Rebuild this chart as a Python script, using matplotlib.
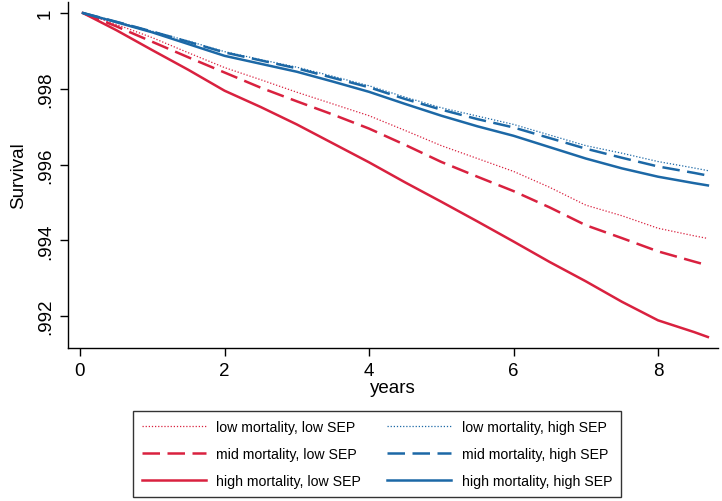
import matplotlib
matplotlib.use("Agg")
import matplotlib.pyplot as plt
from matplotlib.ticker import FuncFormatter

plt.rcParams['font.family'] = ['Liberation Sans', 'DejaVu Sans']

# years since baseline
years = [0.04, 0.5, 1, 1.5, 2, 2.5, 3, 3.5, 4, 4.5, 5, 5.5, 6, 6.5, 7, 7.5, 8, 8.5, 8.69]

# survival, low SEP
low_mort_low_sep = [1.0, .99970, .99935, .99895, .99856, .99824, .99791, .99760, .99729, .99690,
                    .99650, .99616, .99582, .99540, .99493, .99465, .99432, .99412, .99405]
mid_mort_low_sep = [1.0, .99965, .99924, .99883, .99843, .99803, .99767, .99732, .99695, .99652,
                    .99607, .99568, .99530, .99487, .99440, .99406, .99371, .99344, .99334]
high_mort_low_sep = [1.0, .99955, .99902, .99850, .99795, .99752, .99706, .99656, .99606, .99553,
                     .99502, .99450, .99397, .99343, .99292, .99238, .99189, .99158, .99145]

# survival, high SEP
low_mort_high_sep = [1.0, .99978, .99952, .99926, .99898, .99877, .99857, .99833, .99808, .99778,
                     .99750, .99728, .99706, .99678, .99650, .99630, .99608, .99591, .99584]
mid_mort_high_sep = [1.0, .99977, .99951, .99924, .99896, .99875, .99854, .99829, .99804, .99773,
                     .99745, .99720, .99698, .99670, .99642, .99618, .99595, .99578, .99571]
high_mort_high_sep = [1.0, .99976, .99949, .99918, .99887, .99866, .99845, .99819, .99792, .99760,
                      .99729, .99701, .99676, .99646, .99616, .99590, .99568, .99551, .99545]

labels = ["low mortality, low SEP", "mid mortality, low SEP", "high mortality, low SEP",
          "low mortality, high SEP", "mid mortality, high SEP", "high mortality, high SEP"]

red = '#d9213f'
blue = '#1c68a6'

fig = plt.figure(figsize=(7.22, 5.02), dpi=100)
ax = fig.add_axes([68 / 722, 1 - 349 / 502, 650 / 722, 346 / 502])

lines = []
lines += ax.plot(years, low_mort_low_sep, color=red, lw=0.9, linestyle=(0, (1, 1.5)))
lines += ax.plot(years, mid_mort_low_sep, color=red, lw=1.8, linestyle=(0, (7, 3)))
lines += ax.plot(years, high_mort_low_sep, color=red, lw=1.8)
lines += ax.plot(years, low_mort_high_sep, color=blue, lw=0.9, linestyle=(0, (1, 1.5)))
lines += ax.plot(years, mid_mort_high_sep, color=blue, lw=1.8, linestyle=(0, (7, 3)))
lines += ax.plot(years, high_mort_high_sep, color=blue, lw=1.8)

ax.set_xlim(-0.166, 8.83)
ax.set_ylim(0.99116, 1.00029)
ax.set_xticks([0, 2, 4, 6, 8])
ax.set_yticks([.992, .994, .996, .998, 1.0])
ax.yaxis.set_major_formatter(FuncFormatter(lambda v, p: "1" if abs(v - 1) < 1e-9 else ("%.3f" % v).lstrip("0")))
for lab in ax.get_yticklabels():
    lab.set_rotation(90)
    lab.set_va('center')
ax.tick_params(direction='out', length=6, width=1, labelsize=13.5, color='black', pad=4)
ax.spines['top'].set_visible(False)
ax.spines['right'].set_visible(False)
ax.spines['left'].set_linewidth(1)
ax.spines['bottom'].set_linewidth(1)
ax.set_xlabel("years", fontsize=13.5, labelpad=0)
ax.set_ylabel("Survival", fontsize=13.5, labelpad=7)

leg = fig.legend(lines, labels, ncol=2, loc='center', bbox_to_anchor=(377 / 722, 1 - 455 / 502),
                 fontsize=10.2, frameon=True, fancybox=False, edgecolor='black',
                 handlelength=4.5, handletextpad=0.75, columnspacing=1.85, labelspacing=0.9,
                 borderpad=0.65, borderaxespad=0)
leg.get_frame().set_linewidth(1)

fig.savefig("out.png", dpi=100)
